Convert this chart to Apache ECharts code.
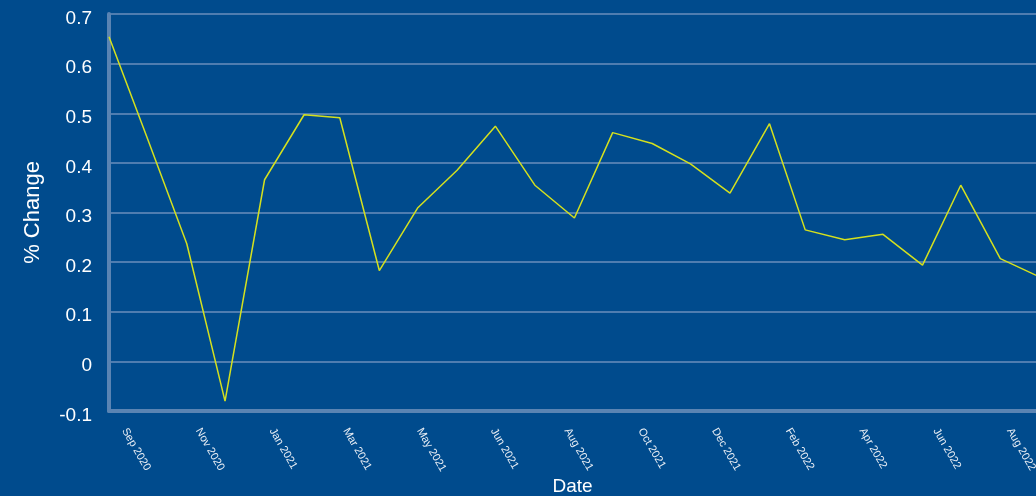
<!DOCTYPE html>
<html>
<head>
<meta charset="utf-8">
<script src="https://cdn.jsdelivr.net/npm/echarts@6/dist/echarts.min.js"></script>
<style>
  html, body { margin: 0; padding: 0; background: #004b8d; }
  #chart { width: 1036px; height: 496px; }
</style>
</head>
<body>
<div id="chart"></div>
<script>
// monthly readings, first day of each month
const dates = [
  '2020-09-01', '2020-10-01', '2020-11-01', '2020-12-01',
  '2021-01-01', '2021-02-01', '2021-03-01', '2021-04-01', '2021-05-01', '2021-06-01',
  '2021-07-01', '2021-08-01', '2021-09-01', '2021-10-01', '2021-11-01', '2021-12-01',
  '2022-01-01', '2022-02-01', '2022-03-01', '2022-04-01', '2022-05-01', '2022-06-01',
  '2022-07-01', '2022-08-01', '2022-09-01'
];
const pctChange = [
  0.654, 0.45, 0.237, -0.080,
  0.366, 0.497, 0.491, 0.183, 0.309, 0.385,
  0.474, 0.355, 0.289, 0.461, 0.439, 0.398,
  0.339, 0.479, 0.265, 0.245, 0.256, 0.194,
  0.355, 0.207, 0.17
];
const tickLabels = [
  'Sep 2020', 'Nov 2020', 'Jan 2021', 'Mar 2021', 'May 2021', 'Jun 2021', 'Aug 2021',
  'Oct 2021', 'Dec 2021', 'Feb 2022', 'Apr 2022', 'Jun 2022', 'Aug 2022'
];

const DAY = 86400000;
const start = Date.parse(dates[0]);
const firstTick = 12;     // days after start where the first date label sits
const tickStep = 57.84;   // days between date labels
const axisEnd = 727;      // days shown on the axis
const tickDays = tickLabels.map((t, i) => +(firstTick + i * tickStep).toFixed(2));

function dayOf(d) {
  return Math.round((Date.parse(d) - start) / DAY);
}

const chart = echarts.init(document.getElementById('chart'));
chart.setOption({
  backgroundColor: '#004b8d',
  animation: false,
  textStyle: { fontFamily: 'Liberation Sans' },
  grid: { left: 109, right: 0, top: 14, bottom: 85, containLabel: false, outerBoundsMode: 'none' },
  xAxis: {
    type: 'value',
    min: 0,
    max: axisEnd,
    name: 'Date',
    nameLocation: 'middle',
    nameGap: 66,
    nameMoveOverlap: false,
    nameTextStyle: { color: '#ffffff', fontSize: 19 },
    axisLine: { show: true, onZero: false, lineStyle: { color: '#5a84b3', width: 4 } },
    axisTick: { show: false },
    splitLine: { show: false },
    axisLabel: {
      customValues: tickDays,
      rotate: -60,
      fontSize: 11,
      color: '#e8eef5',
      margin: 18,
      formatter: function (v) {
        const i = tickDays.indexOf(v);
        return i >= 0 ? tickLabels[i] : '';
      }
    }
  },
  yAxis: {
    type: 'value',
    min: -0.1,
    max: 0.7,
    interval: 0.1,
    name: '% Change',
    nameLocation: 'middle',
    nameGap: 65,
    nameMoveOverlap: false,
    nameTextStyle: { color: '#ffffff', fontSize: 22 },
    axisLine: { show: true, onZero: false, lineStyle: { color: '#5a84b3', width: 4 } },
    axisTick: { show: false },
    axisLabel: { color: '#ffffff', fontSize: 19, margin: 17, verticalAlign: 'top', padding: [-5, 0, 0, 0] },
    splitLine: { show: true, lineStyle: { color: '#4f7db0', width: 2 } }
  },
  series: [{
    type: 'line',
    data: dates.map((d, i) => [dayOf(d), pctChange[i]]),
    showSymbol: false,
    lineStyle: { color: '#d4e01e', width: 1.5 },
    clip: true
  }]
});
</script>
</body>
</html>
